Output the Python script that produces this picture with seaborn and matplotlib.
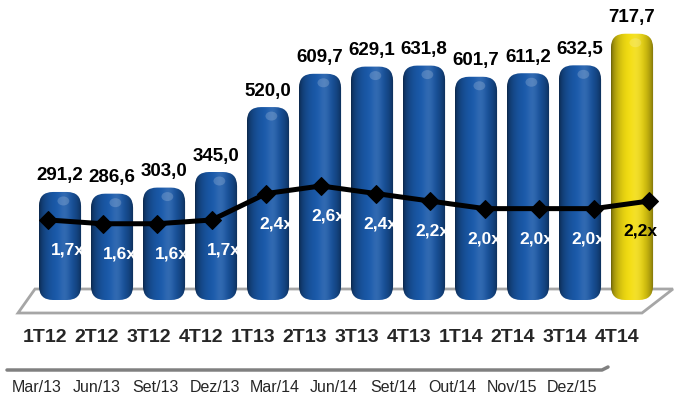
import numpy as np
import matplotlib
matplotlib.use("Agg")
import matplotlib.pyplot as plt
import seaborn as sns
from matplotlib.patches import FancyBboxPatch, Polygon, Ellipse
from matplotlib.colors import to_rgb
from matplotlib.lines import Line2D

quarters = ["1T12", "2T12", "3T12", "4T12", "1T13", "2T13", "3T13", "4T13",
            "1T14", "2T14", "3T14", "4T14"]
values = [291.2, 286.6, 303.0, 345.0, 520.0, 609.7, 629.1, 631.8,
          601.7, 611.2, 632.5, 717.7]
ratios = [1.7, 1.6, 1.6, 1.7, 2.4, 2.6, 2.4, 2.2, 2.0, 2.0, 2.0, 2.2]
dates = ["Mar/13", "Jun/13", "Set/13", "Dez/13", "Mar/14", "Jun/14",
         "Set/14", "Out/14", "Nov/15", "Dez/15"]

BLUE, YELLOW = "#1a5aab", "#f4de12"
palette = [BLUE] * 11 + [YELLOW]

W, H = 676, 401
XLIM = (-1.154, 11.846)
YLIM = (-272.2, 808.6)
XLIM2 = (-0.879, 11.50)
YLIM2 = (-3.09, 7.52)


def fmt(v, suffix=""):
    return f"{v:.1f}{suffix}".replace(".", ",")


def cylinder(color, n=80):
    c = np.array(to_rgb(color))
    dark = c * 0.42
    t = np.linspace(0, 1, n)
    s = np.sin(np.pi * t) ** 0.55
    col = dark[None, :] + (c - dark)[None, :] * s[:, None]
    hl = 0.10 * np.exp(-((t - 0.6) / 0.13) ** 2)
    col = col + (1 - col) * hl[:, None]
    return np.clip(col, 0, 1)[None, :, :]


sns.set_style("white")
plt.rcParams["font.family"] = ["Liberation Sans", "DejaVu Sans"]

fig = plt.figure(figsize=(W / 100, H / 100), dpi=100)
ax = fig.add_axes([0, 0, 1, 1])
ax2 = fig.add_axes([0, 0, 1, 1])
ax2.patch.set_visible(False)

sns.barplot(x=quarters, y=values, hue=quarters, palette=palette, legend=False,
            width=0.81, saturation=1, ax=ax)
bars = list(ax.patches)

# 3d floor
floor = [(18, 313), (642, 313), (673, 289), (35, 289)]
ax.add_patch(Polygon([(x / W, 1 - y / H) for x, y in floor], closed=True,
                     transform=ax.transAxes, fc="white", ec="#a6a6a6",
                     lw=2, zorder=0))

ypx = (YLIM[1] - YLIM[0]) / H
asp = ypx / ((XLIM[1] - XLIM[0]) / W)
for i, (p, c) in enumerate(zip(bars, palette)):
    x0, w, h = p.get_x(), p.get_width(), p.get_height()
    p.set_visible(False)
    shape = FancyBboxPatch((x0, 0), w, h, boxstyle="round,pad=0,rounding_size=0.27",
                           mutation_aspect=asp, fc="none", ec="none", zorder=2)
    ax.add_patch(shape)
    im = ax.imshow(cylinder(c), extent=(x0, x0 + w, 0, h), aspect="auto",
                   zorder=2, interpolation="bilinear")
    im.set_clip_path(shape)
    glow = Ellipse((x0 + w * 0.58, h - 9 * ypx), w * 0.28, 9 * ypx,
                   fc="white", ec="none", alpha=0.18, zorder=3)
    ax.add_patch(glow)
    glow.set_clip_path(shape)
    ax.annotate(fmt(values[i]), (x0 + w / 2, h), xytext=(0, 16),
                textcoords="offset pixels", ha="center", va="center",
                fontsize=13.5, fontweight="bold", color="black")
    ax.annotate(quarters[i], (x0 + w / 2, 1 - 337 / H),
                xycoords=("data", "axes fraction"), xytext=(-15, 0),
                textcoords="offset pixels", ha="center", va="center",
                fontsize=14, fontweight="bold")

ax.set_xlim(*XLIM)
ax.set_ylim(*YLIM)
ax.set_axis_off()

sns.lineplot(x=np.arange(len(ratios)), y=ratios, ax=ax2, color="black",
             linewidth=3.6, marker="D", markersize=9, markeredgecolor="black")
for i, r in enumerate(ratios):
    ax2.annotate(fmt(r, "x"), (i, r), xycoords=(ax.transData, ax2.transData),
                 xytext=(8, -30), textcoords="offset pixels", ha="center",
                 va="center", fontsize=12.5, fontweight="bold",
                 color="black" if i == len(ratios) - 1 else "white")
ax2.set_xlim(*XLIM2)
ax2.set_ylim(*YLIM2)
ax2.set_axis_off()

fig.add_artist(Line2D([7 / W, 602 / W, 608 / W],
                      [1 - 370 / H, 1 - 370 / H, 1 - 367 / H],
                      color="#808080", lw=2.5, solid_capstyle="round"))
for i, d in enumerate(dates):
    fig.text((37 + 59.4 * i) / W, 1 - 388 / H, d, ha="center", va="center",
             fontsize=11.5)

fig.savefig("out.png", dpi=100)
